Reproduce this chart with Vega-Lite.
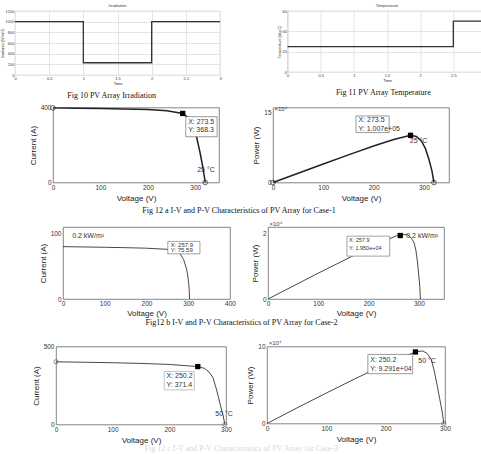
{
  "$schema": "https://vega.github.io/schema/vega-lite/v6.json",
  "padding": {"left": 0, "top": 3, "right": 0, "bottom": 0},
  "spacing": 1.5,
  "config": {
    "font": "Liberation Sans",
    "view": {"stroke": "#666", "strokeWidth": 0.8},
    "axis": {"domain": false, "ticks": false, "grid": false, "labelColor": "#333", "titleColor": "#222", "titleFontWeight": "normal", "labelFontSize": 6.5, "titleFontSize": 8, "labelPadding": 2, "titlePadding": 3, "labelFont": "Liberation Sans", "titleFont": "Liberation Sans", "labelOverlap": false, "labelFlush": false},
    "title": {"font": "Liberation Serif", "fontWeight": "normal", "fontSize": 8, "color": "#111", "anchor": "middle"},
    "text": {"font": "Liberation Sans"}
  },
  "vconcat": [
    {
      "spacing": 53.5,
      "hconcat": [
        {
          "title": {"text": "Fig 10 PV Array Irradiation", "orient": "bottom", "offset": 7},
          "vconcat": [
            {
              "title": {"text": "Irradiation", "font": "Liberation Sans", "fontSize": 4, "offset": 1.5, "color": "#333", "orient": "top"},
              "width": 205, "height": 64,
              "view": {"stroke": "#aaa"},
              "data": {"values": [
                {"i": 1, "t": 0, "g": 1000}, {"i": 2, "t": 1, "g": 1000}, {"i": 3, "t": 1, "g": 230},
                {"i": 4, "t": 2, "g": 230}, {"i": 5, "t": 2, "g": 1000}, {"i": 6, "t": 3, "g": 1000}
              ]},
              "mark": {"type": "line", "color": "#333", "strokeWidth": 1.3},
              "encoding": {
                "order": {"field": "i", "type": "quantitative"},
                "x": {"field": "t", "type": "quantitative", "scale": {"domain": [0, 3]},
                  "axis": {"values": [0, 0.5, 1, 1.5, 2, 2.5, 3], "format": "~g", "grid": true, "gridColor": "#e4e4e4", "title": "Time", "labelFontSize": 4, "titleFontSize": 4, "labelPadding": 1.5, "titlePadding": 0.5}},
                "y": {"field": "g", "type": "quantitative", "scale": {"domain": [0, 1200]},
                  "axis": {"values": [0, 200, 400, 600, 800, 1000, 1200], "format": "d", "grid": true, "gridColor": "#e4e4e4", "title": "Irradiance (W/m^2)", "labelFontSize": 4, "titleFontSize": 3.5, "labelPadding": 1, "titlePadding": 0.5}}
              }
            }
          ]
        },
        {
          "title": {"text": "Fig 11 PV Array Temperature", "orient": "bottom", "offset": 7},
          "vconcat": [
            {
              "title": {"text": "Temperature", "font": "Liberation Sans", "fontSize": 4, "offset": 1.5, "color": "#333", "orient": "top"},
              "width": 199, "height": 61,
              "view": {"stroke": "#aaa"},
              "data": {"values": [
                {"i": 1, "t": 0, "c": 25}, {"i": 2, "t": 2.5, "c": 25}, {"i": 3, "t": 2.5, "c": 50}, {"i": 4, "t": 3, "c": 50}
              ]},
              "mark": {"type": "line", "color": "#333", "strokeWidth": 1.3},
              "encoding": {
                "order": {"field": "i", "type": "quantitative"},
                "x": {"field": "t", "type": "quantitative", "scale": {"domain": [0, 3]},
                  "axis": {"values": [0, 0.5, 1, 1.5, 2, 2.5, 3], "format": "~g", "grid": true, "gridColor": "#e4e4e4", "title": "Time", "labelFontSize": 4, "titleFontSize": 4, "labelPadding": 1.5, "titlePadding": 0.5}},
                "y": {"field": "c", "type": "quantitative", "scale": {"domain": [0, 60]},
                  "axis": {"values": [0, 20, 40, 60], "format": "d", "grid": true, "gridColor": "#e4e4e4", "title": "Temperature (deg C)", "labelFontSize": 4, "titleFontSize": 3.5, "labelPadding": 1, "titlePadding": 0.5}}
              }
            }
          ]
        }
      ]
    },
    {
      "spacing": 4.5,
      "vconcat": [
        {
          "spacing": 1,
          "hconcat": [
            {"width": 12, "height": 1, "data": {"values": []}, "mark": "point", "view": {"stroke": null}},
            {
              "spacing": 54,
              "bounds": "flush",
              "title": {"text": "Fig 12 a  I-V and P-V Characteristics of PV Array for Case-1", "orient": "bottom", "offset": 4.5},
              "hconcat": [
                {
                  "width": 166, "height": 75,
                  "layer": [
                    {
                      "data": {"values": [
                        {"v": 0, "y": 398}, {"v": 50, "y": 396.5}, {"v": 100, "y": 395}, {"v": 150, "y": 392.5}, {"v": 200, "y": 389},
                        {"v": 240, "y": 383}, {"v": 273.5, "y": 368.3}, {"v": 285, "y": 345}, {"v": 295, "y": 300}, {"v": 303, "y": 240},
                        {"v": 310, "y": 160}, {"v": 316, "y": 80}, {"v": 321, "y": 0}
                      ]},
                      "mark": {"type": "line", "color": "#222", "strokeWidth": 1.5},
                      "encoding": {
                        "x": {"field": "v", "type": "quantitative", "scale": {"domain": [0, 350]}, "axis": {"values": [0, 50, 100, 150, 200, 250, 300, 350], "title": "Voltage (V)"}},
                        "y": {"field": "y", "type": "quantitative", "scale": {"domain": [0, 400]}, "axis": {"values": [0, 100, 200, 300, 400], "title": "Current (A)"}}
                      }
                    },
                    {
                      "data": {"values": [{"v": 0, "y": 398}, {"v": 321, "y": 0}]},
                      "mark": {"type": "point", "shape": "circle", "filled": false, "color": "#222", "size": 22, "strokeWidth": 1},
                      "encoding": {"x": {"field": "v", "type": "quantitative"}, "y": {"field": "y", "type": "quantitative"}}
                    },
                    {
                      "data": {"values": [{"v": 273.5, "y": 368.3}]},
                      "mark": {"type": "square", "color": "#000", "size": 28, "opacity": 1},
                      "encoding": {"x": {"field": "v", "type": "quantitative"}, "y": {"field": "y", "type": "quantitative"}}
                    },
                    {
                      "data": {"values": [{"v": 280, "v2": 346, "y": 244, "y2": 351}]},
                      "mark": {"type": "rect", "fill": "#fff", "stroke": "#555", "strokeWidth": 0.6},
                      "encoding": {"x": {"field": "v", "type": "quantitative"}, "x2": {"field": "v2"}, "y": {"field": "y", "type": "quantitative"}, "y2": {"field": "y2"}}
                    },
                    {
                      "data": {"values": [{"v": 285, "y": 322, "s": "X: 273.5"}, {"v": 285, "y": 278, "s": "Y: 368.3"}, {"v": 304, "y": 68, "s": "25 °C"}]},
                      "mark": {"type": "text", "align": "left", "baseline": "middle", "fontSize": 7, "color": "#333"},
                      "encoding": {"x": {"field": "v", "type": "quantitative"}, "y": {"field": "y", "type": "quantitative"}, "text": {"field": "s"}}
                    }
                  ]
                },
                {
                  "width": 176, "height": 75,
                  "layer": [
                    {
                      "data": {"values": [
                        {"v": 0, "y": 0}, {"v": 50, "y": 1.98}, {"v": 100, "y": 3.95}, {"v": 150, "y": 5.89}, {"v": 200, "y": 7.78},
                        {"v": 240, "y": 9.19}, {"v": 273.5, "y": 10.07}, {"v": 285, "y": 9.83}, {"v": 295, "y": 8.85}, {"v": 303, "y": 7.27},
                        {"v": 310, "y": 4.96}, {"v": 316, "y": 2.53}, {"v": 320, "y": 0}
                      ]},
                      "mark": {"type": "line", "color": "#222", "strokeWidth": 1.5},
                      "encoding": {
                        "x": {"field": "v", "type": "quantitative", "scale": {"domain": [0, 350]}, "axis": {"values": [0, 50, 100, 150, 200, 250, 300, 350], "title": "Voltage (V)"}},
                        "y": {"field": "y", "type": "quantitative", "scale": {"domain": [0, 15]}, "axis": {"values": [0, 5, 10, 15], "title": "Power (W)"}}
                      }
                    },
                    {
                      "data": {"values": [{"v": 0, "y": 0}, {"v": 320, "y": 0}]},
                      "mark": {"type": "point", "shape": "circle", "filled": false, "color": "#222", "size": 22, "strokeWidth": 1},
                      "encoding": {"x": {"field": "v", "type": "quantitative"}, "y": {"field": "y", "type": "quantitative"}}
                    },
                    {
                      "data": {"values": [{"v": 273.5, "y": 10.07}]},
                      "mark": {"type": "square", "color": "#000", "size": 28, "opacity": 1},
                      "encoding": {"x": {"field": "v", "type": "quantitative"}, "y": {"field": "y", "type": "quantitative"}}
                    },
                    {
                      "data": {"values": [{"v": 165, "v2": 231, "y": 10.65, "y2": 14.2}]},
                      "mark": {"type": "rect", "fill": "#fff", "stroke": "#555", "strokeWidth": 0.6},
                      "encoding": {"x": {"field": "v", "type": "quantitative"}, "x2": {"field": "v2"}, "y": {"field": "y", "type": "quantitative"}, "y2": {"field": "y2"}}
                    },
                    {
                      "data": {"values": [{"v": 170, "y": 13.4, "s": "X: 273.5"}, {"v": 170, "y": 11.5, "s": "Y: 1.007e+05"}, {"v": 272, "y": 8.8, "s": "25 °C"}]},
                      "mark": {"type": "text", "align": "left", "baseline": "middle", "fontSize": 7, "color": "#333"},
                      "encoding": {"x": {"field": "v", "type": "quantitative"}, "y": {"field": "y", "type": "quantitative"}, "text": {"field": "s"}}
                    },
                    {
                      "data": {"values": [{"v": 3, "y": 15, "s": "×10⁴"}]},
                      "mark": {"type": "text", "align": "left", "baseline": "bottom", "dy": -0.5, "fontSize": 6, "color": "#444"},
                      "encoding": {"x": {"field": "v", "type": "quantitative"}, "y": {"field": "y", "type": "quantitative"}, "text": {"field": "s"}}
                    }
                  ]
                }
              ]
            }
          ]
        },
        {
          "spacing": 11.5,
          "vconcat": [
            {
              "spacing": 1,
              "hconcat": [
                {"width": 22, "height": 1, "data": {"values": []}, "mark": "point", "view": {"stroke": null}},
                {
                  "spacing": 38,
                  "bounds": "flush",
                  "title": {"text": "Fig12 b I-V and P-V Characteristics of PV Array for Case-2", "orient": "bottom", "offset": 2},
                  "hconcat": [
                    {
                      "width": 167, "height": 72,
                      "layer": [
                        {
                          "data": {"values": [
                            {"v": 0, "y": 80}, {"v": 50, "y": 79.5}, {"v": 100, "y": 79}, {"v": 150, "y": 78.4}, {"v": 200, "y": 77.6},
                            {"v": 257.9, "y": 75.59}, {"v": 270, "y": 74}, {"v": 280, "y": 70}, {"v": 289, "y": 60}, {"v": 295, "y": 48},
                            {"v": 298, "y": 39}, {"v": 301, "y": 25}, {"v": 302.5, "y": 12}, {"v": 303, "y": 0}
                          ]},
                          "mark": {"type": "line", "color": "#333", "strokeWidth": 0.9},
                          "encoding": {
                            "x": {"field": "v", "type": "quantitative", "scale": {"domain": [0, 400]}, "axis": {"values": [0, 100, 200, 300, 400], "title": "Voltage (V)", "labelPadding": 1.5, "titlePadding": 2}},
                            "y": {"field": "y", "type": "quantitative", "scale": {"domain": [0, 110]}, "axis": {"values": [0, 20, 40, 60, 80, 100], "title": "Current (A)"}}
                          }
                        },
                        {
                          "data": {"values": [{"v": 251, "v2": 328, "y": 69, "y2": 88}]},
                          "mark": {"type": "rect", "fill": "#fff", "stroke": "#666", "strokeWidth": 0.6},
                          "encoding": {"x": {"field": "v", "type": "quantitative"}, "x2": {"field": "v2"}, "y": {"field": "y", "type": "quantitative"}, "y2": {"field": "y2"}}
                        },
                        {
                          "data": {"values": [{"v": 258, "y": 82.5, "s": "X: 257.9"}, {"v": 258, "y": 74.5, "s": "Y: 75.59"}]},
                          "mark": {"type": "text", "align": "left", "baseline": "middle", "fontSize": 6, "color": "#333"},
                          "encoding": {"x": {"field": "v", "type": "quantitative"}, "y": {"field": "y", "type": "quantitative"}, "text": {"field": "s"}}
                        },
                        {
                          "data": {"values": [{"v": 22, "y": 97, "s": "0.2 kW/m²"}]},
                          "mark": {"type": "text", "align": "left", "baseline": "middle", "fontSize": 7, "color": "#333"},
                          "encoding": {"x": {"field": "v", "type": "quantitative"}, "y": {"field": "y", "type": "quantitative"}, "text": {"field": "s"}}
                        }
                      ]
                    },
                    {
                      "width": 176, "height": 72,
                      "layer": [
                        {
                          "data": {"values": [
                            {"v": 0, "y": 0}, {"v": 100, "y": 0.79}, {"v": 200, "y": 1.556}, {"v": 257.9, "y": 1.95}, {"v": 268, "y": 1.97},
                            {"v": 278, "y": 1.96}, {"v": 285, "y": 1.85}, {"v": 290, "y": 1.74}, {"v": 294, "y": 1.5}, {"v": 297, "y": 1.16},
                            {"v": 300, "y": 0.7}, {"v": 302, "y": 0.35}, {"v": 303, "y": 0}
                          ]},
                          "mark": {"type": "line", "color": "#333", "strokeWidth": 0.9},
                          "encoding": {
                            "x": {"field": "v", "type": "quantitative", "scale": {"domain": [0, 350]}, "axis": {"values": [0, 50, 100, 150, 200, 250, 300, 350], "title": "Voltage (V)", "labelPadding": 1.5, "titlePadding": 2}},
                            "y": {"field": "y", "type": "quantitative", "scale": {"domain": [0, 2.2]}, "axis": {"values": [0, 0.5, 1, 1.5, 2], "title": "Power (W)"}}
                          }
                        },
                        {
                          "data": {"values": [{"v": 263, "y": 1.94}]},
                          "mark": {"type": "square", "color": "#000", "size": 28, "opacity": 1},
                          "encoding": {"x": {"field": "v", "type": "quantitative"}, "y": {"field": "y", "type": "quantitative"}}
                        },
                        {
                          "data": {"values": [{"v": 157, "v2": 242, "y": 1.31, "y2": 1.92}]},
                          "mark": {"type": "rect", "fill": "#fff", "stroke": "#666", "strokeWidth": 0.6},
                          "encoding": {"x": {"field": "v", "type": "quantitative"}, "x2": {"field": "v2"}, "y": {"field": "y", "type": "quantitative"}, "y2": {"field": "y2"}}
                        },
                        {
                          "data": {"values": [{"v": 161, "y": 1.79, "s": "X: 257.9"}, {"v": 161, "y": 1.56, "s": "Y: 1.950e+04"}]},
                          "mark": {"type": "text", "align": "left", "baseline": "middle", "fontSize": 5.5, "color": "#333"},
                          "encoding": {"x": {"field": "v", "type": "quantitative"}, "y": {"field": "y", "type": "quantitative"}, "text": {"field": "s"}}
                        },
                        {
                          "data": {"values": [{"v": 275, "y": 1.93, "s": "0.2 kW/m²"}]},
                          "mark": {"type": "text", "align": "left", "baseline": "middle", "fontSize": 7, "color": "#333"},
                          "encoding": {"x": {"field": "v", "type": "quantitative"}, "y": {"field": "y", "type": "quantitative"}, "text": {"field": "s"}}
                        },
                        {
                          "data": {"values": [{"v": 3, "y": 2.2, "s": "×10⁴"}]},
                          "mark": {"type": "text", "align": "left", "baseline": "bottom", "dy": -0.5, "fontSize": 6, "color": "#444"},
                          "encoding": {"x": {"field": "v", "type": "quantitative"}, "y": {"field": "y", "type": "quantitative"}, "text": {"field": "s"}}
                        }
                      ]
                    }
                  ]
                }
              ]
            },
            {
              "spacing": 1,
              "hconcat": [
                {"width": 15, "height": 1, "data": {"values": []}, "mark": "point", "view": {"stroke": null}},
                {
                  "spacing": 41,
                  "bounds": "flush",
                  "title": {"text": "Fig 12 c  I-V and P-V Characteristics of PV Array for Case-3", "orient": "bottom", "offset": 0.5, "color": "#d8d8d8"},
                  "hconcat": [
                    {
                      "width": 170, "height": 78,
                      "layer": [
                        {
                          "data": {"values": [
                            {"v": 0, "y": 402}, {"v": 50, "y": 399}, {"v": 100, "y": 396}, {"v": 150, "y": 391.5}, {"v": 200, "y": 385},
                            {"v": 250.2, "y": 371.4}, {"v": 262, "y": 360}, {"v": 270, "y": 337}, {"v": 277, "y": 300}, {"v": 282, "y": 240},
                            {"v": 287, "y": 170}, {"v": 291, "y": 111}, {"v": 295, "y": 55}, {"v": 298, "y": 0}
                          ]},
                          "mark": {"type": "line", "color": "#333", "strokeWidth": 0.9},
                          "encoding": {
                            "x": {"field": "v", "type": "quantitative", "scale": {"domain": [0, 300]}, "axis": {"values": [0, 50, 100, 150, 200, 250, 300], "title": "Voltage (V)"}},
                            "y": {"field": "y", "type": "quantitative", "scale": {"domain": [0, 500]}, "axis": {"values": [0, 100, 200, 300, 400, 500], "title": "Current (A)"}}
                          }
                        },
                        {
                          "data": {"values": [{"v": 0, "y": 402}, {"v": 298, "y": 0}]},
                          "mark": {"type": "point", "shape": "circle", "filled": false, "color": "#444", "size": 18, "strokeWidth": 0.8},
                          "encoding": {"x": {"field": "v", "type": "quantitative"}, "y": {"field": "y", "type": "quantitative"}}
                        },
                        {
                          "data": {"values": [{"v": 250.2, "y": 371.4}]},
                          "mark": {"type": "square", "color": "#000", "size": 28, "opacity": 1},
                          "encoding": {"x": {"field": "v", "type": "quantitative"}, "y": {"field": "y", "type": "quantitative"}}
                        },
                        {
                          "data": {"values": [{"v": 191, "v2": 244, "y": 222, "y2": 340}]},
                          "mark": {"type": "rect", "fill": "#fff", "stroke": "#999", "strokeWidth": 0.6},
                          "encoding": {"x": {"field": "v", "type": "quantitative"}, "x2": {"field": "v2"}, "y": {"field": "y", "type": "quantitative"}, "y2": {"field": "y2"}}
                        },
                        {
                          "data": {"values": [{"v": 195, "y": 312, "s": "X: 250.2"}, {"v": 195, "y": 256, "s": "Y: 371.4"}, {"v": 281, "y": 68, "s": "50 °C"}]},
                          "mark": {"type": "text", "align": "left", "baseline": "middle", "fontSize": 7, "color": "#333"},
                          "encoding": {"x": {"field": "v", "type": "quantitative"}, "y": {"field": "y", "type": "quantitative"}, "text": {"field": "s"}}
                        }
                      ]
                    },
                    {
                      "width": 178, "height": 77,
                      "layer": [
                        {
                          "data": {"values": [
                            {"v": 0, "y": 0}, {"v": 50, "y": 2.0}, {"v": 100, "y": 3.96}, {"v": 150, "y": 5.87}, {"v": 200, "y": 7.7},
                            {"v": 250.2, "y": 9.291}, {"v": 262, "y": 9.43}, {"v": 270, "y": 9.1}, {"v": 277, "y": 8.31}, {"v": 282, "y": 6.77},
                            {"v": 287, "y": 4.88}, {"v": 291, "y": 3.23}, {"v": 295, "y": 1.62}, {"v": 298, "y": 0}
                          ]},
                          "mark": {"type": "line", "color": "#333", "strokeWidth": 0.9},
                          "encoding": {
                            "x": {"field": "v", "type": "quantitative", "scale": {"domain": [0, 300]}, "axis": {"values": [0, 50, 100, 150, 200, 250, 300], "title": "Voltage (V)"}},
                            "y": {"field": "y", "type": "quantitative", "scale": {"domain": [0, 10]}, "axis": {"values": [0, 2, 4, 6, 8, 10], "title": "Power (W)"}}
                          }
                        },
                        {
                          "data": {"values": [{"v": 298, "y": 0}]},
                          "mark": {"type": "point", "shape": "circle", "filled": false, "color": "#444", "size": 18, "strokeWidth": 0.8},
                          "encoding": {"x": {"field": "v", "type": "quantitative"}, "y": {"field": "y", "type": "quantitative"}}
                        },
                        {
                          "data": {"values": [{"v": 250.2, "y": 9.291}]},
                          "mark": {"type": "square", "color": "#000", "size": 28, "opacity": 1},
                          "encoding": {"x": {"field": "v", "type": "quantitative"}, "y": {"field": "y", "type": "quantitative"}}
                        },
                        {
                          "data": {"values": [{"v": 170, "v2": 245.5, "y": 6.47, "y2": 8.97}]},
                          "mark": {"type": "rect", "fill": "#fff", "stroke": "#555", "strokeWidth": 0.6},
                          "encoding": {"x": {"field": "v", "type": "quantitative"}, "x2": {"field": "v2"}, "y": {"field": "y", "type": "quantitative"}, "y2": {"field": "y2"}}
                        },
                        {
                          "data": {"values": [{"v": 174, "y": 8.2, "s": "X: 250.2"}, {"v": 174, "y": 7.1, "s": "Y: 9.291e+04"}, {"v": 255, "y": 8.1, "s": "50 °C"}]},
                          "mark": {"type": "text", "align": "left", "baseline": "middle", "fontSize": 7, "color": "#333"},
                          "encoding": {"x": {"field": "v", "type": "quantitative"}, "y": {"field": "y", "type": "quantitative"}, "text": {"field": "s"}}
                        },
                        {
                          "data": {"values": [{"v": 3, "y": 10, "s": "×10⁴"}]},
                          "mark": {"type": "text", "align": "left", "baseline": "bottom", "dy": -0.5, "fontSize": 6, "color": "#444"},
                          "encoding": {"x": {"field": "v", "type": "quantitative"}, "y": {"field": "y", "type": "quantitative"}, "text": {"field": "s"}}
                        }
                      ]
                    }
                  ]
                }
              ]
            }
          ]
        }
      ]
    }
  ]
}
